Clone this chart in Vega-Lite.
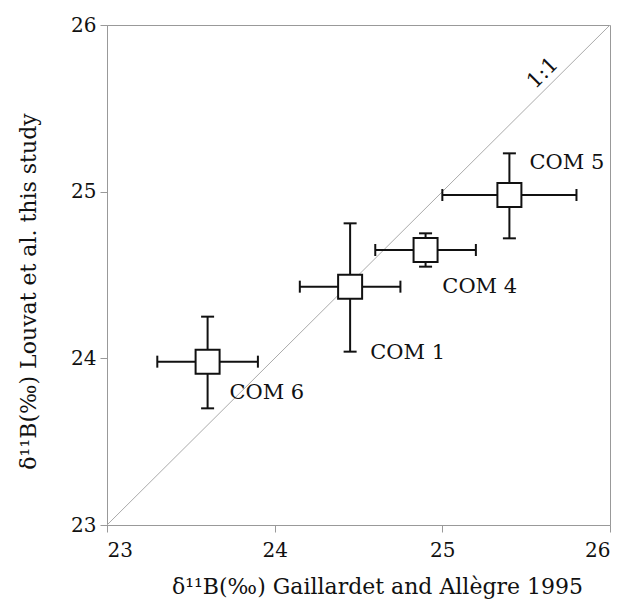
{
  "$schema": "https://vega.github.io/schema/vega-lite/v6.json",
  "width": 503,
  "height": 500,
  "autosize": {"type": "none"},
  "padding": {"left": 107, "top": 25, "right": 18, "bottom": 81},
  "background": "white",
  "config": {
    "view": {"stroke": "#999999", "strokeWidth": 1},
    "font": "DejaVu Serif",
    "axis": {
      "grid": false,
      "domainColor": "#999999",
      "tickColor": "#999999",
      "tickSize": 7,
      "labelFont": "DejaVu Serif",
      "labelFontSize": 20,
      "labelColor": "#111111",
      "titleFont": "DejaVu Serif",
      "titleFontSize": 22,
      "titleFontWeight": "normal",
      "titleColor": "#111111"
    }
  },
  "datasets": {
    "pts": [
      {"sample": "COM 6", "x": 23.6, "y": 23.98, "xlo": 23.3, "xhi": 23.9, "ylo": 23.7, "yhi": 24.25, "lx": 23.73, "ly": 23.79},
      {"sample": "COM 1", "x": 24.45, "y": 24.43, "xlo": 24.15, "xhi": 24.75, "ylo": 24.04, "yhi": 24.81, "lx": 24.57, "ly": 24.03},
      {"sample": "COM 4", "x": 24.9, "y": 24.65, "xlo": 24.6, "xhi": 25.2, "ylo": 24.55, "yhi": 24.75, "lx": 25.0, "ly": 24.43},
      {"sample": "COM 5", "x": 25.4, "y": 24.98, "xlo": 25.0, "xhi": 25.8, "ylo": 24.72, "yhi": 25.23, "lx": 25.52, "ly": 25.17}
    ],
    "diag": [{"x": 23, "y": 23, "x2": 26, "y2": 26, "lx": 25.6, "ly": 25.71, "t": "1:1"}]
  },
  "layer": [
    {
      "data": {"name": "diag"},
      "mark": {"type": "rule", "color": "#aaaaaa", "strokeWidth": 1},
      "encoding": {
        "x": {"field": "x", "type": "quantitative", "scale": {"domain": [23, 26], "nice": false, "zero": false},
              "axis": {"values": [23, 24, 25, 26], "format": "d", "title": "δ¹¹B(‰) Gaillardet and Allègre 1995", "labelPadding": 8, "titlePadding": 16, "titleX": 270}},
        "x2": {"field": "x2"},
        "y": {"field": "y", "type": "quantitative", "scale": {"domain": [23, 26], "nice": false, "zero": false},
              "axis": {"values": [23, 24, 25, 26], "format": "d", "title": "δ¹¹B(‰) Louvat et al. this study", "labelPadding": 4, "titlePadding": 30, "titleY": 266}},
        "y2": {"field": "y2"}
      }
    },
    {
      "data": {"name": "diag"},
      "mark": {"type": "text", "angle": -45, "fontSize": 21, "color": "#111111", "align": "center", "baseline": "middle"},
      "encoding": {
        "x": {"field": "lx", "type": "quantitative"},
        "y": {"field": "ly", "type": "quantitative"},
        "text": {"field": "t"}
      }
    },
    {
      "data": {"name": "pts"},
      "mark": {"type": "rule", "color": "#111111", "strokeWidth": 2},
      "encoding": {
        "x": {"field": "xlo", "type": "quantitative"},
        "x2": {"field": "xhi"},
        "y": {"field": "y", "type": "quantitative"}
      }
    },
    {
      "data": {"name": "pts"},
      "mark": {"type": "rule", "color": "#111111", "strokeWidth": 2},
      "encoding": {
        "x": {"field": "x", "type": "quantitative"},
        "y": {"field": "ylo", "type": "quantitative"},
        "y2": {"field": "yhi"}
      }
    },
    {
      "data": {"name": "pts"},
      "mark": {"type": "tick", "orient": "vertical", "color": "#111111", "thickness": 2, "size": 12, "opacity": 1},
      "encoding": {
        "x": {"field": "xlo", "type": "quantitative"},
        "y": {"field": "y", "type": "quantitative"}
      }
    },
    {
      "data": {"name": "pts"},
      "mark": {"type": "tick", "orient": "vertical", "color": "#111111", "thickness": 2, "size": 12, "opacity": 1},
      "encoding": {
        "x": {"field": "xhi", "type": "quantitative"},
        "y": {"field": "y", "type": "quantitative"}
      }
    },
    {
      "data": {"name": "pts"},
      "mark": {"type": "tick", "orient": "horizontal", "color": "#111111", "thickness": 2, "size": 13, "opacity": 1},
      "encoding": {
        "x": {"field": "x", "type": "quantitative"},
        "y": {"field": "ylo", "type": "quantitative"}
      }
    },
    {
      "data": {"name": "pts"},
      "mark": {"type": "tick", "orient": "horizontal", "color": "#111111", "thickness": 2, "size": 13, "opacity": 1},
      "encoding": {
        "x": {"field": "x", "type": "quantitative"},
        "y": {"field": "yhi", "type": "quantitative"}
      }
    },
    {
      "data": {"name": "pts"},
      "mark": {"type": "square", "size": 576, "filled": true, "fill": "white", "stroke": "#111111", "strokeWidth": 2, "opacity": 1},
      "encoding": {
        "x": {"field": "x", "type": "quantitative"},
        "y": {"field": "y", "type": "quantitative"}
      }
    },
    {
      "data": {"name": "pts"},
      "mark": {"type": "text", "align": "left", "baseline": "middle", "fontSize": 21, "color": "#111111"},
      "encoding": {
        "x": {"field": "lx", "type": "quantitative"},
        "y": {"field": "ly", "type": "quantitative"},
        "text": {"field": "sample"}
      }
    }
  ]
}
